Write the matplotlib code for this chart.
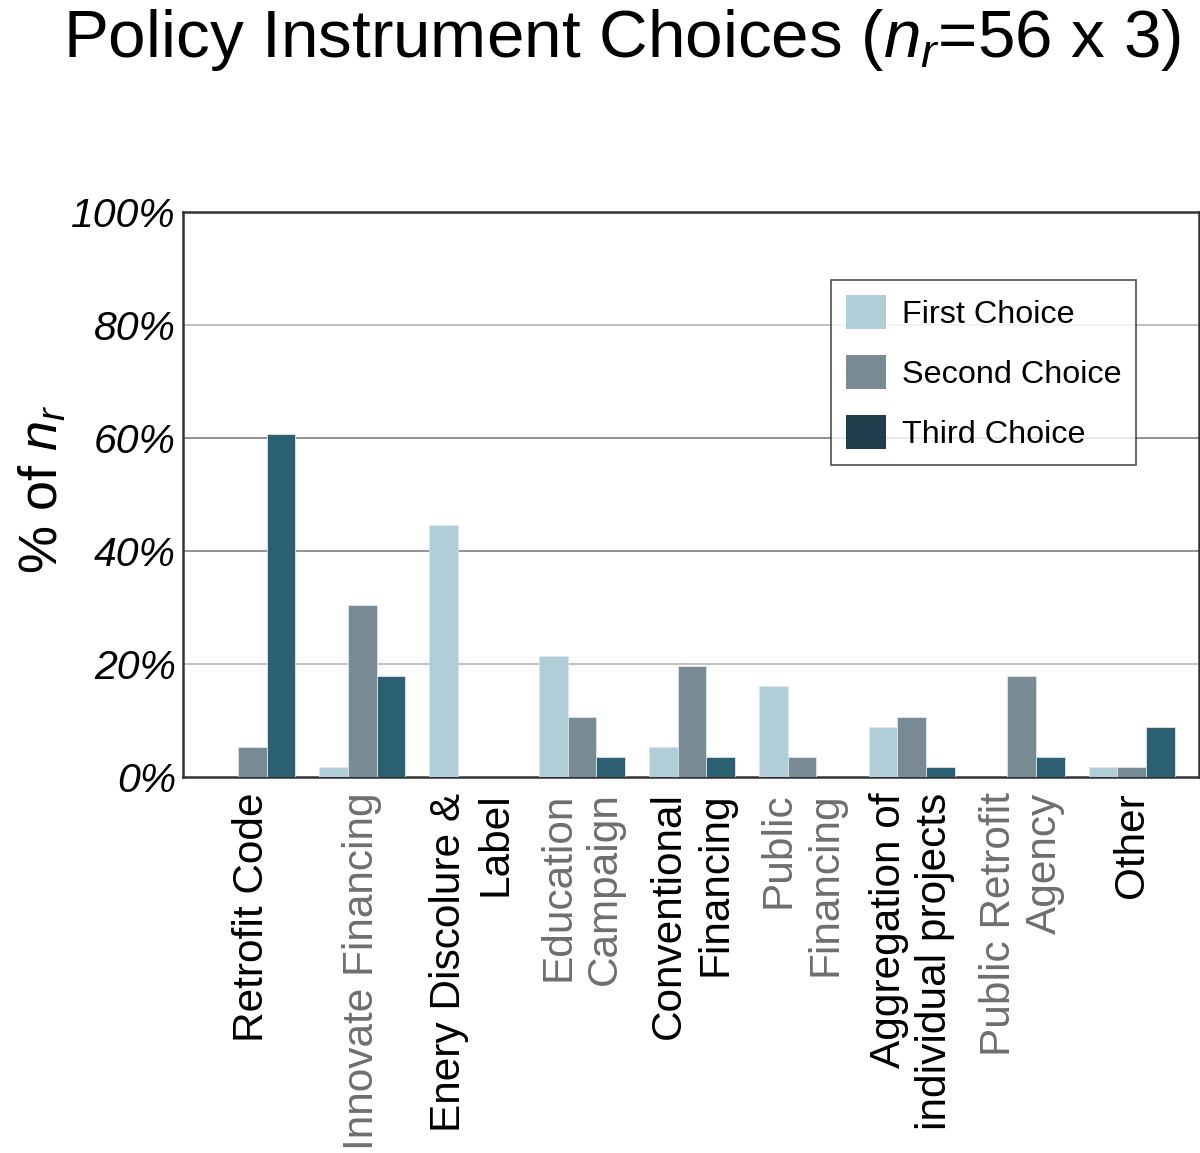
import matplotlib.pyplot as plt
import numpy as np
from matplotlib.patches import Patch

plt.rcParams['font.family'] = ['Liberation Sans', 'DejaVu Sans']
plt.rcParams['mathtext.fontset'] = 'custom'
plt.rcParams['mathtext.it'] = 'Liberation Sans:italic'
plt.rcParams['mathtext.rm'] = 'Liberation Sans'

# Data (percent of 56 respondents)
categories = ['Retrofit Code', 'Innovate Financing', 'Enery Discolure &\nLabel',
              'Education\nCampaign', 'Conventional\nFinancing', 'Public\nFinancing',
              'Aggregation of\nindividual projects', 'Public Retrofit\nAgency', 'Other']
label_colors = ['black', '#6e6e6e', 'black', '#6e6e6e', 'black',
                '#6e6e6e', 'black', '#6e6e6e', 'black']
first = [0.0, 1.8, 44.6, 21.4, 5.4, 16.1, 8.9, 0.0, 1.8]
second = [5.4, 30.4, 0.0, 10.7, 19.6, 3.6, 10.7, 17.9, 1.8]
third = [60.7, 17.9, 0.0, 3.6, 3.6, 0.0, 1.8, 3.6, 8.9]
series_names = ['First Choice', 'Second Choice', 'Third Choice']
bar_colors = ['#b0cdd8', '#788b95', '#2b6072']
legend_colors = ['#b0cdd8', '#788b95', '#1f3d4a']

fig = plt.figure(figsize=(12, 11.53), dpi=100)
ax = fig.add_axes([0.1525, 0.326, 0.8465, 0.49])

x = np.arange(len(categories))
w = 0.262
for i, vals in enumerate([first, second, third]):
    ax.bar(x + (i - 1) * w, vals, width=w, color=bar_colors[i],
           edgecolor='#dde6ea', linewidth=0.6, zorder=3)

# horizontal grid lines
grid_vals = [20, 40, 60, 80]
grid_colors = ['#bbbbbb', '#888888', '#888888', '#bbbbbb']
for g, c in zip(grid_vals, grid_colors):
    ax.axhline(g, color=c, linewidth=1.3, zorder=1)

ax.set_xlim(-0.63, 8.61)
ax.set_ylim(0, 100)
ax.set_yticks([0, 20, 40, 60, 80, 100])
ax.set_yticklabels(['0%', '20%', '40%', '60%', '80%', '100%'],
                   fontsize=29.5, style='italic', va='center_baseline')
ax.set_xticks(x)
ax.set_xticklabels(categories, rotation=90, fontsize=30.5, ha='center',
                   va='top', multialignment='right')
for lbl, c in zip(ax.get_xticklabels(), label_colors):
    lbl.set_color(c)
ax.tick_params(axis='y', length=0, pad=5)
ax.tick_params(axis='x', length=0, pad=11)

for s in ax.spines.values():
    s.set_color('#333333')
    s.set_linewidth(1.8)

ax.set_ylabel('% of $n_r$', fontsize=39)
ax.yaxis.set_label_coords(-0.113, 0.51)

handles = [Patch(facecolor=c, edgecolor='none') for c in legend_colors]
leg = ax.legend(handles, series_names, loc='upper left',
                bbox_to_anchor=(0.638, 0.88), borderaxespad=0,
                fontsize=23.3, frameon=True,
                fancybox=False, edgecolor='#222222', handlelength=1.25,
                handleheight=1.25, labelspacing=0.78, borderpad=0.45,
                handletextpad=0.5)
leg.get_frame().set_linewidth(1.2)

fig.text(0.518, 0.965, 'Policy Instrument Choices ($n_r$=56 x 3)',
         fontsize=48.5, ha='center', va='center')

fig.savefig('out.png', dpi=100)
